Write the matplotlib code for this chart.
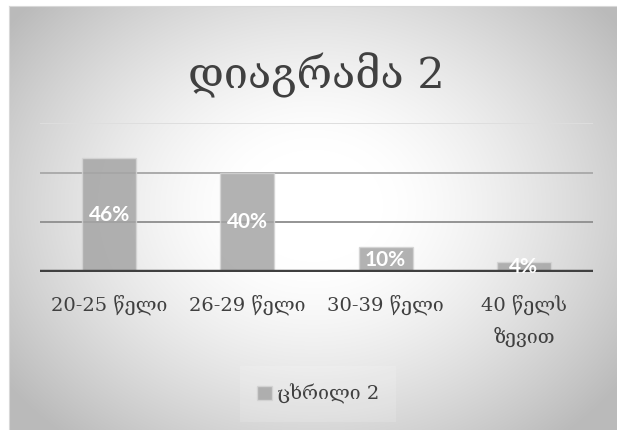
import numpy as np
import matplotlib
matplotlib.use('Agg')
import matplotlib.pyplot as plt
from matplotlib.patches import Patch

# ── Data ──────────────────────────────────────────────────────────────────────
categories = ['20-25 წელი', '26-29 წელი', '30-39 წელი', '40 წელს\nზევით']
values = [46, 40, 10, 4]
value_labels = ['46%', '40%', '10%', '4%']
grid_values = [20, 40, 60]
series_name = 'ცხრილი 2'
title = 'დიაგრამა 2'

GEO_FONT = ['DejaVu Serif', 'DejaVu Sans']
TEXT_COLOR = '#404040'

fig = plt.figure(figsize=(6.17, 4.30), dpi=100)
fig.patch.set_facecolor('white')

# ── Radial gradient background ────────────────────────────────────────────────
bg = fig.add_axes([9 / 617, 0, 608 / 617, 424 / 430], zorder=0)
h, w = 424, 608
yy, xx = np.mgrid[0:h, 0:w]
nx = (xx - w * 0.50) / (w * 0.52)
ny = (yy - h * 0.47) / (h * 0.60)
r = np.sqrt(nx ** 2 + ny ** 2)
s = np.clip((r - 0.22) / 0.78, 0, 1.25)
shade = (255 - 50 * s ** 1.4) / 255
bg.imshow(np.dstack([shade] * 3), aspect='auto', extent=(0, 1, 0, 1))
bg.set_axis_off()
fig.add_artist(plt.Line2D([9 / 617, 9 / 617], [0, 424 / 430], color='#d8d8d8', lw=0.8))
fig.add_artist(plt.Line2D([9 / 617, 1], [424 / 430, 424 / 430], color='#d8d8d8', lw=0.8))

# ── Bars ──────────────────────────────────────────────────────────────────────
ax = fig.add_axes([40 / 617, (430 - 272) / 430, 553 / 617, 149 / 430], zorder=2)
ax.patch.set_alpha(0)
x = np.arange(len(categories))
bars = ax.bar(x, values, width=0.39, color='#a5a5a5', alpha=0.85,
              edgecolor='#d4d4d4', linewidth=1.0, zorder=2)

grid_colors = {20: '#949494', 40: '#ababab', 60: '#dedede'}
for gv in grid_values:
    ax.axhline(gv, color=grid_colors[gv], lw=1.4, zorder=1)
ax.axhline(0, color='#404040', lw=3.2, zorder=3)

for bar, lab in zip(bars, value_labels):
    ax.text(bar.get_x() + bar.get_width() / 2, bar.get_height() / 2, lab,
            ha='center', va='center', color='white', fontsize=15,
            fontweight='bold', family='Lato', zorder=4)

ax.set_xlim(-0.5, len(categories) - 0.5)
ax.set_ylim(0, 60)
ax.set_yticks([])
ax.set_xticks(x)
ax.set_xticklabels(categories, family=GEO_FONT, fontsize=14, color=TEXT_COLOR,
                   linespacing=1.75, va='top')
ax.tick_params(axis='x', length=0, pad=16)
for sp in ax.spines.values():
    sp.set_visible(False)

# ── Title & legend ────────────────────────────────────────────────────────────
fig.text(316 / 617, 1 - 75 / 430, title, ha='center', va='center',
         family=GEO_FONT, fontsize=31, color=TEXT_COLOR)

handle = Patch(facecolor='#a5a5a5', alpha=0.85, edgecolor='#d4d4d4')
leg = fig.legend([handle], [series_name], loc='center',
                 bbox_to_anchor=(318 / 617, 1 - 394 / 430),
                 prop={'family': GEO_FONT, 'size': 14},
                 handlelength=0.75, handleheight=0.75, handletextpad=0.25,
                 frameon=True, fancybox=False, borderpad=0.9)
leg.get_frame().set_facecolor('white')
leg.get_frame().set_alpha(0.15)
leg.get_frame().set_edgecolor('none')
for t in leg.get_texts():
    t.set_color(TEXT_COLOR)

fig.savefig('out.png', dpi=100, facecolor='white')
